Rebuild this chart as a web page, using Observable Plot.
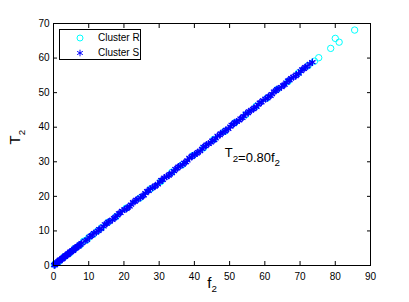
<!DOCTYPE html>
<html>
<head>
<meta charset="utf-8">
<script src="https://cdn.jsdelivr.net/npm/d3@7"></script>
<script src="https://cdn.jsdelivr.net/npm/@observablehq/plot@0.6"></script>
<style>
  html, body { margin: 0; padding: 0; background: #fff; }
  #wrap { position: relative; width: 409px; height: 302px; font-family: "Liberation Sans", Arial, sans-serif; }
  #legend { position: absolute; left: 59px; top: 29px; width: 82px; height: 31px; box-sizing: border-box;
            border: 1px solid #000; background: #fff; font-size: 10px; color: #000; }
  .li { position: absolute; left: 0; height: 14px; width: 100%; }
  .li svg { position: absolute; left: 14px; top: 0; }
  .li span { position: absolute; left: 38px; top: 1px; }
</style>
</head>
<body>
<div id="wrap"></div>
<script>
// Cluster S (blue asterisks)
const sF = [0.2,0.5,0.8,1.1,1.4,1.7,2.0,2.3,2.6,2.9,3.2,3.5,3.8,4.1,4.4,4.7,5.0,5.3,5.6,5.9,6.2,6.5,6.8,7.1,7.4,7.7,8.0,
  0.4,1.0,1.8,2.5,3.3,4.0,4.8,5.5,6.3,7.0,
  9.0,10.2,11.0,12.1,13.0,14.2,15.1,16.0,17.2,18.1,19.0,20.2,21.1,22.0,23.1,24.0,25.2,26.1,27.0,28.1,29.0,30.2,31.0,32.1,33.0,34.2,35.1,36.0,37.1,38.0,39.2,40.1,41.0,42.2,43.1,44.0,45.1,46.0,47.2,48.1,49.0,50.2,51.1,52.0,53.1,54.0,55.2,56.1,57.0,58.1,59.0,60.2,61.1,62.0,63.1,64.0,65.2,66.1,67.0,68.1,69.0,70.2,71.1,72.0,72.8,73.5,
  9.5,11.5,13.5,15.6,17.6,19.5,21.6,23.5,25.6,27.5,29.6,31.5,33.6,35.5,37.6,39.5,41.6,43.5,45.6,47.5,49.6,51.5,53.6,55.5,57.6,59.5,61.6,63.5,65.6,67.5,69.6,71.5,
  10.6,12.7,14.6,16.7,18.6,20.7,22.6,24.7,26.6,28.7,30.6,32.7,34.6,36.7,38.6,40.7,42.6,44.7,46.6,48.7,50.6,52.7,54.6,56.7,58.6,60.7,62.6,64.7,66.6,68.7,70.6];
const sT = [0.1,0.5,0.6,0.9,1.2,1.3,1.7,1.8,2.1,2.4,2.5,2.9,3.0,3.4,3.5,3.8,4.0,4.3,4.4,4.8,4.9,5.2,5.5,5.6,6.0,6.1,6.5,
  0.1,0.6,1.6,1.9,2.8,3.1,4.0,4.2,5.2,5.5,
  7.1,8.2,8.8,9.6,10.5,11.3,12.1,12.8,13.7,14.5,15.2,16.2,16.8,17.6,18.5,19.2,20.1,20.9,21.6,22.5,23.2,24.2,24.8,25.7,26.4,27.3,28.1,28.8,29.7,30.4,31.4,32.1,32.8,33.7,34.5,35.2,36.1,36.8,37.7,38.5,39.2,40.2,40.9,41.6,42.5,43.2,44.1,44.9,45.6,46.5,47.2,48.2,48.9,49.6,50.5,51.2,52.1,52.9,53.6,54.5,55.2,56.2,56.9,57.6,58.3,58.8,
  7.4,9.4,10.6,12.6,14.0,15.8,17.1,19.0,20.3,22.2,23.5,25.4,26.7,28.6,29.9,31.8,33.1,35.0,36.3,38.2,39.5,41.4,42.7,44.6,45.9,47.8,49.1,51.0,52.3,54.2,55.5,57.4,
  8.6,10.0,11.9,13.2,15.1,16.4,18.3,19.6,21.5,22.8,24.7,26.0,27.9,29.2,31.1,32.4,34.3,35.6,37.5,38.8,40.7,42.0,43.9,45.2,47.1,48.4,50.3,51.6,53.5,54.8,56.7];
// Cluster R (cyan circles)
const rF = [0.3,1.5,3.0,4.5,6.0,7.5,8.5,9.3,10.0,11.3,12.5,13.6,15.5,17.7,20.6,24.5,27.6,30.5,33.6,36.5,39.6,42.6,45.5,48.6,51.5,54.6,57.5,60.6,63.5,66.6,69.5,72.3,74.1,75.3,78.7,80.0,81.1,85.5];
const rT = [0.3,1.1,2.5,3.5,4.9,5.9,7.0,7.3,8.1,9.0,10.0,10.9,12.5,14.1,16.6,19.5,22.2,24.3,27.0,29.1,31.8,34.0,36.5,38.8,41.3,43.6,46.1,48.4,50.9,53.2,55.7,57.8,59.1,60.1,62.8,65.7,64.6,68.1];
const xTicks = [0,10,20,30,40,50,60,70,80,90];
const yTicks = [0,10,20,30,40,50,60,70];
const annoX = [48.6];
const annoY = [32.6];
const annoText = ["T\u2082=0.80f\u2082"];

const S = sF.map((f, i) => ({f, T: sT[i]}));
const R = rF.map((f, i) => ({f, T: rT[i]}));

const chart = Plot.plot({
  width: 409, height: 302,
  marginLeft: 53, marginRight: 39, marginTop: 23, marginBottom: 37,
  style: {fontFamily: "Liberation Sans, Arial, sans-serif", fontSize: "10px", color: "#000", background: "#fff"},
  x: {domain: [0, 90]},
  y: {domain: [0, 70]},
  marks: [
    Plot.dot(R, {x: "f", y: "T", r: 3.2, stroke: "#00ffff", strokeWidth: 1, fill: "none"}),
    Plot.dot(S, {x: "f", y: "T", r: 3.4, symbol: "asterisk", stroke: "#0000ff", strokeWidth: 1.3}),
    Plot.frame({stroke: "#000", strokeWidth: 1}),
    Plot.axisX(xTicks, {anchor: "bottom", tickSize: -4, tickPadding: 11, label: null, fontSize: 10}),
    Plot.axisX(xTicks, {anchor: "top", tickSize: -4, tickFormat: () => "", label: null}),
    Plot.axisY(yTicks, {anchor: "left", tickSize: -4, tickPadding: 8, label: null, fontSize: 10}),
    Plot.axisY(yTicks, {anchor: "right", tickSize: -4, tickFormat: () => "", label: null}),
    Plot.text(annoText, {x: annoX, y: annoY, text: d => d, textAnchor: "start", fontSize: 13, className: "sub"}),
    Plot.text(["f\u2082"], {frameAnchor: "bottom", dy: 22, fontSize: 15, className: "sub"}),
    Plot.text(["T\u2082"], {frameAnchor: "left", dx: -38, rotate: -90, fontSize: 15, className: "sub"})
  ]
});
// turn the subscript character into a lowered, smaller tspan
d3.select(chart).selectAll("g.sub text").each(function() {
  const el = d3.select(this);
  const txt = el.text();
  const fs = parseFloat(el.attr("font-size") || getComputedStyle(this).fontSize) || 13;
  el.text(null);
  const parts = txt.split("\u2082");
  parts.forEach((p, i) => {
    if (p) el.append("tspan").text(p);
    if (i < parts.length - 1) {
      el.append("tspan").attr("font-size", fs * 0.75).attr("dy", fs * 0.35).text("2");
      if (i < parts.length - 2 || parts[parts.length - 1]) el.append("tspan").attr("dy", -fs * 0.35).text("");
    }
  });
});
const wrap = document.getElementById("wrap");
wrap.appendChild(chart);

const legend = document.createElement("div");
legend.id = "legend";
legend.innerHTML = `
  <div class="li" style="top:1px"><svg width="12" height="14"><circle cx="6" cy="7" r="3" fill="none" stroke="#00ffff"/></svg><span>Cluster R</span></div>
  <div class="li" style="top:16px"><svg width="12" height="14"><path transform="translate(6,7)" d="${d3.symbol(d3.symbolAsterisk, 30)()}" stroke="#0000ff" fill="none"/></svg><span>Cluster S</span></div>`;
wrap.appendChild(legend);
</script>
</body>
</html>
